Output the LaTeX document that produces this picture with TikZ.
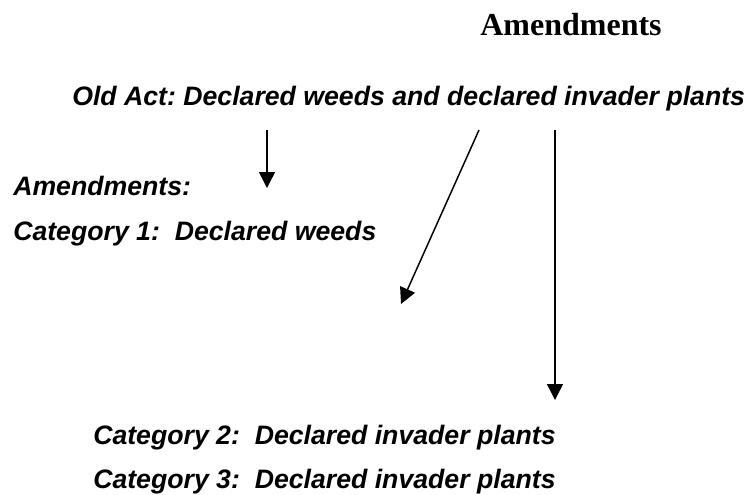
\documentclass[tikz,border=0pt]{standalone}
\usepackage{fontspec}
\setmainfont{Liberation Sans}
\newfontfamily\titlefont{Liberation Serif}
\usetikzlibrary{arrows.meta}
\frenchspacing

\tikzset{
	lbl/.style={anchor=base west, inner sep=0pt, font=\fontsize{20}{24}\selectfont\bfseries\itshape},
	arr/.style={line width=1.1pt, -{Triangle[length=12pt,width=12pt]}}
}

\begin{document}
\begin{tikzpicture}[x=0.75pt,y=-0.75pt]
	\useasboundingbox (0,0) rectangle (746,494);
	% heading
	\node[anchor=base, inner sep=0pt, font=\titlefont\fontsize{24}{28}\selectfont\bfseries] (title) at (571,35) {Amendments};
	\node[lbl] (oldact) at (72,105) {Old Act: Declared weeds and declared invader plants};

	% left column
	\node[lbl] (amend) at (13,195) {Amendments:};
	\node[lbl] (cat1) at (13,240) {Category 1:\ \ Declared weeds};

	% bottom
	\node[lbl] (cat2) at (93,444) {Category 2:\ \ Declared invader plants};
	\node[lbl] (cat3) at (93,488) {Category 3:\ \ Declared invader plants};

	% arrows
	\coordinate (a1) at (267,130);
	\coordinate (b1) at (267,188);
	\coordinate (a2) at (479,130);
	\coordinate (b2) at (401,304);
	\coordinate (a3) at (555,130);
	\coordinate (b3) at (555,400);
	\draw[arr] (a1) -- (b1);
	\draw[arr] (a2) -- (b2);
	\draw[arr] (a3) -- (b3);
\end{tikzpicture}
\end{document}
